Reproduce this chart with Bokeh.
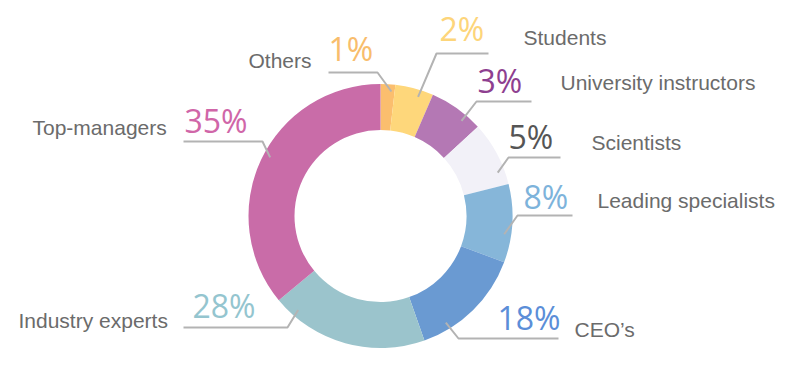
import math
from bokeh.plotting import figure
from bokeh.models import Range1d, ColumnDataSource
from bokeh.core.properties import value
from bokeh.embed import file_html
from bokeh.resources import INLINE

# ---- data ----
categories = ["Others", "Students", "University instructors", "Scientists",
              "Leading specialists", "CEO\u2019s", "Industry experts", "Top-managers"]
pct_labels = ["1%", "2%", "3%", "5%", "8%", "18%", "28%", "35%"]
# share of the ring each slice occupies as drawn in the picture (percent of circle)
shares = [1.8, 4.7, 6.7, 7.9, 9.6, 13.9, 19.4, 36.0]

slice_colors = ["#FBBE6E", "#FED77B", "#B478B4", "#F2F1F8",
                "#86B6D9", "#6A9AD2", "#9BC4CC", "#C96CA8"]
pct_colors = ["#F8BD6C", "#FDD57A", "#8E3F90", "#555555",
              "#7DB3DB", "#5B8ED8", "#94C5CF", "#D066A8"]
name_color = "#6B6B6B"
line_color = "#B3B3B3"

W, H = 800, 375
def Y(py):
    return H - py

# ---- layout ----
cx, cy = 380, Y(215.5)
r_in, r_out = 86, 132
r_anchor = 125

# per label: anchor angle (deg), elbow (px), line end x, pct text (x, baseline), name (x, baseline)
layout = [
    (85.0, (377, 72), 328, (328, 60), (248, 68)),
    (72.5, (436, 53), 488, (439, 40), (523, 45)),
    (49.6, (476, 101), 531, (477, 92), (560, 90)),
    (20.3, (508, 157), 560, (508, 148), (591, 150)),
    (-8.4, (517, 215), 572, (523, 208), (597, 208)),
    (-58.5, (458, 338), 558, (497, 329), (574, 337)),
    (228.8, (287, 327), 183, (192, 317), (18, 328)),
    (152.0, (262, 141), 183, (184, 132), (32, 135)),
]

p = figure(width=784, height=359, output_backend="svg", toolbar_location=None,
           x_range=Range1d(0, 784), y_range=Range1d(Y(359), Y(0)),
           min_border=0)
p.axis.visible = False
p.grid.visible = False
p.outline_line_color = None
p.background_fill_color = "white"
p.border_fill_color = "white"

# ---- ring ----
total = sum(shares)
starts, ends = [], []
cum = 0.0
for s in shares:
    a0 = math.pi / 2 - 2 * math.pi * cum / total
    cum += s
    a1 = math.pi / 2 - 2 * math.pi * cum / total
    starts.append(a1)
    ends.append(a0)

src = ColumnDataSource(dict(start=starts, end=ends, color=slice_colors, cat=categories))
p.annular_wedge(x=cx, y=cy, inner_radius=r_in, outer_radius=r_out,
                start_angle="start", end_angle="end", direction="anticlock",
                fill_color="color", line_color=None, source=src)

# ---- leader lines and labels ----
xs, ys = [], []
px, py, nx, ny = [], [], [], []
for ang, (ex, ey), lx, (tx, ty), (mx, my) in layout:
    a = math.radians(ang)
    ax = cx + r_anchor * math.cos(a)
    ay = cy + r_anchor * math.sin(a)
    xs.append([ax, ex, lx])
    ys.append([ay, Y(ey), Y(ey)])
    px.append(tx); py.append(Y(ty))
    nx.append(mx); ny.append(Y(my))

p.multi_line(xs=xs, ys=ys, line_color=line_color, line_width=2)

p.text(x=px, y=py, text=pct_labels, text_color=pct_colors,
       text_font=value("Open Sans"), text_font_size="32px",
       text_align="left", text_baseline="alphabetic", y_offset=-12)
p.text(x=nx, y=ny, text=categories, text_color=name_color,
       text_font=value("Liberation Sans"), text_font_size="21px",
       text_align="left", text_baseline="alphabetic", y_offset=-8)

open("out.html", "w").write(file_html(p, INLINE))
